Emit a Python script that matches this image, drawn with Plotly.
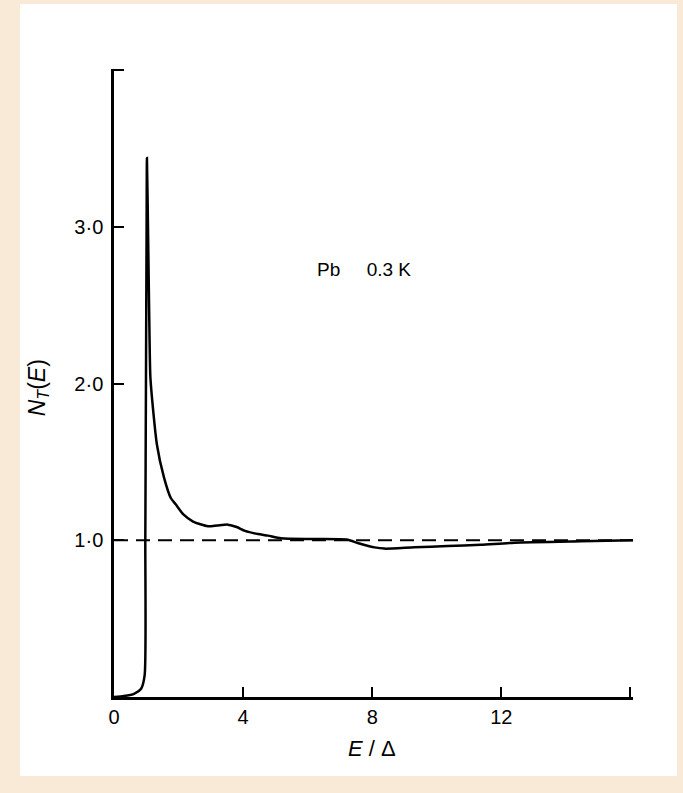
import plotly.graph_objects as go

# Tunnelling density of states N_T(E) vs E/Δ for Pb at 0.3 K
e_vals = [0.0, 0.31, 0.62, 0.84, 0.95, 0.97, 0.99, 1.01, 1.02, 1.06, 1.10, 1.13,
          1.33, 1.55, 1.76, 1.91, 2.15, 2.45, 2.91, 3.2, 3.53, 3.8, 4.06, 4.46,
          4.77, 5.17, 6.2, 7.24, 7.55, 8.07, 8.38, 9.31, 10.33, 11.36, 12.41,
          14.46, 16.1]
n_vals = [0.0, 0.006, 0.02, 0.053, 0.14, 1.0, 2.0, 3.0, 3.44, 2.9, 2.31, 2.03,
          1.61, 1.40, 1.27, 1.23, 1.165, 1.12, 1.09, 1.095, 1.10, 1.085, 1.06, 1.04,
          1.03, 1.013, 1.008, 1.004, 0.983, 0.955, 0.947, 0.956, 0.963, 0.971, 0.985,
          0.994, 1.0]

normal_e = [0.0, 16.1]
normal_n = [1.0, 1.0]

x_ticks = [0, 4, 8, 12, 16]
x_tick_text = ["0", "4", "8", "12", ""]
y_ticks = [1, 2, 3, 4]
y_tick_text = ["1·0", "2·0", "3·0", ""]

FONT = "Liberation Sans"
BEIGE = "#F9EAD8"

fig = go.Figure()
fig.add_trace(go.Scatter(x=normal_e, y=normal_n, mode="lines",
                         line=dict(color="black", width=2, dash="14px,8px"),
                         hoverinfo="skip", showlegend=False))
fig.add_trace(go.Scatter(x=e_vals, y=n_vals, mode="lines",
                         line=dict(color="black", width=2.5, shape="spline", smoothing=0.6),
                         showlegend=False))

# plot area geometry (px)
L, R, T, B = 114, 50, 69, 96
W, H = 683, 793
pw, ph = W - L - R, H - T - B

def px_x(px):
    return (px - L) / pw

def px_y(py):
    return (H - B - py) / ph

fig.add_shape(type="rect", xref="paper", yref="paper",
              x0=px_x(20), x1=px_x(677), y0=px_y(776), y1=px_y(4),
              fillcolor="white", line=dict(width=0), layer="below")

fig.add_annotation(x=7.75, y=2.73, xref="x", yref="y",
                   text="Pb&nbsp;&nbsp;&nbsp;&nbsp;&nbsp;0.3 K",
                   xanchor="center", yanchor="middle",
                   showarrow=False, font=dict(family=FONT, size=19, color="black"))
fig.add_annotation(x=px_x(38), y=1.97, xref="paper", yref="y",
                   text="<i>N<sub>T</sub></i>(<i>E</i>)", textangle=-90,
                   xanchor="center", yanchor="middle",
                   showarrow=False, font=dict(family=FONT, size=23, color="black"))
fig.add_annotation(x=8.0, y=px_y(748), xref="x", yref="paper",
                   text="<i>E</i> / Δ", xanchor="center", yanchor="middle",
                   showarrow=False, font=dict(family=FONT, size=22, color="black"))

fig.update_xaxes(range=[0, 16.08], tickvals=x_ticks, ticktext=x_tick_text,
                 ticks="inside", ticklen=10, tickwidth=2, tickcolor="black",
                 showline=True, linecolor="black", linewidth=2.5,
                 showgrid=False, zeroline=False,
                 tickfont=dict(family=FONT, size=20, color="black"))
fig.update_yaxes(range=[0, 4.008], tickvals=y_ticks, ticktext=y_tick_text,
                 ticks="inside", ticklen=10, tickwidth=2, tickcolor="black",
                 showline=True, linecolor="black", linewidth=2.5,
                 showgrid=False, zeroline=False, ticklabelstandoff=4,
                 tickfont=dict(family=FONT, size=20, color="black"))

fig.update_layout(width=W, height=H, margin=dict(l=L, r=R, t=T, b=B),
                  paper_bgcolor=BEIGE, plot_bgcolor="white",
                  showlegend=False)

fig.write_html("out.html", config={"displayModeBar": False},
               post_script="document.body.style.margin='0';"
                           "document.body.style.background='" + BEIGE + "';")
